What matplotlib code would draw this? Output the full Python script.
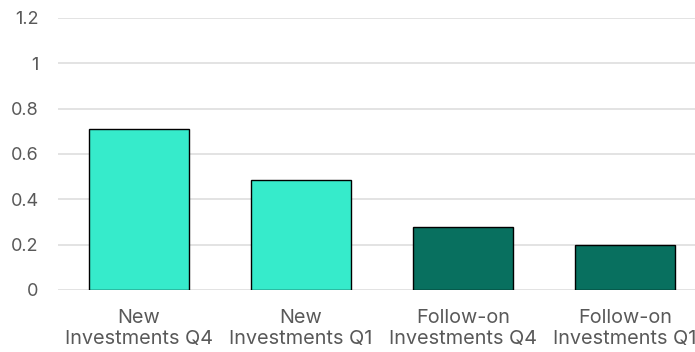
import matplotlib.pyplot as plt
import numpy as np

categories = ['New\nInvestments Q4', 'New\nInvestments Q1',
              'Follow-on\nInvestments Q4', 'Follow-on\nInvestments Q1']
values = [0.71, 0.485, 0.278, 0.198]
colors = ['#36EBCB', '#36EBCB', '#08705F', '#08705F']
yticks = [0, 0.2, 0.4, 0.6, 0.8, 1, 1.2]
ytick_labels = ['0', '0.2', '0.4', '0.6', '0.8', '1', '1.2']

plt.rcParams['font.family'] = ['Inter', 'DejaVu Sans']

fig = plt.figure(figsize=(6.95, 3.52), dpi=100)
ax = fig.add_axes([58 / 695, 1 - 290 / 352, 648 / 695, 272 / 352])

x = np.arange(len(categories))
ax.bar(x, values, width=0.617, color=colors, edgecolor='black', linewidth=1, zorder=3)

ax.set_xlim(-0.5, len(categories) - 0.5)
ax.set_ylim(0, 1.2)
ax.set_yticks(yticks)
ax.set_yticklabels(ytick_labels)
ax.set_xticks(x)
ax.set_xticklabels(categories, linespacing=1.2)

ax.grid(axis='y', color='#dedede', linewidth=1.2, zorder=0)
for s in ax.spines.values():
    s.set_visible(False)
ax.tick_params(axis='both', length=0, colors='#595959')
ax.tick_params(axis='x', pad=14, labelsize=14.3)
ax.tick_params(axis='y', pad=14, labelsize=13)
for lab in ax.get_yticklabels():
    lab.set_horizontalalignment('right')

fig.savefig('out.png')
